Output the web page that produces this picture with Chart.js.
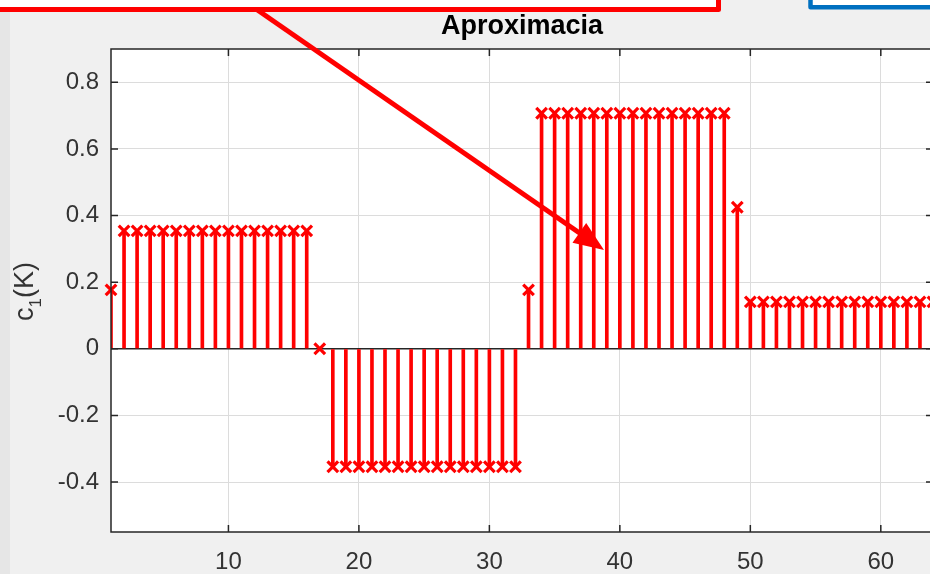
<!DOCTYPE html>
<html>
<head>
<meta charset="utf-8">
<script src="https://cdn.jsdelivr.net/npm/chart.js@4.4.1/dist/chart.umd.min.js"></script>
<style>
  html, body { margin: 0; padding: 0; background: #f0f0f0; overflow: hidden; width: 930px; height: 574px; }
  #wrap { width: 936px; height: 574px; }
</style>
</head>
<body>
<div id="wrap"><canvas id="chart" width="936" height="574"></canvas></div>
<script>
// ── Data ─────────────────────────────────────────────────────
const kValues = [
  1, 2, 3, 4, 5, 6, 7, 8, 9, 10, 11, 12, 13, 14, 15, 16,
  17, 18, 19, 20, 21, 22, 23, 24, 25, 26, 27, 28, 29, 30, 31, 32,
  33, 34, 35, 36, 37, 38, 39, 40, 41, 42, 43, 44, 45, 46, 47, 48,
  49, 50, 51, 52, 53, 54, 55, 56, 57, 58, 59, 60, 61, 62, 63, 64
];
const c1Values = [
  0.177, 0.354, 0.354, 0.354, 0.354, 0.354, 0.354, 0.354, 0.354, 0.354, 0.354, 0.354, 0.354, 0.354, 0.354, 0.354,
  0, -0.354, -0.354, -0.354, -0.354, -0.354, -0.354, -0.354, -0.354, -0.354, -0.354, -0.354, -0.354, -0.354, -0.354, -0.354,
  0.177, 0.707, 0.707, 0.707, 0.707, 0.707, 0.707, 0.707, 0.707, 0.707, 0.707, 0.707, 0.707, 0.707, 0.707, 0.707,
  0.425, 0.141, 0.141, 0.141, 0.141, 0.141, 0.141, 0.141, 0.141, 0.141, 0.141, 0.141, 0.141, 0.141, 0.141, 0.141
];
const xTicks = [10, 20, 30, 40, 50, 60];
const yTicks = [-0.4, -0.2, 0, 0.2, 0.4, 0.6, 0.8];
const chartTitle = 'Aproximacia';

// ── Styles ───────────────────────────────────────────────────
const FONT = "'Liberation Sans', Arial, sans-serif";
const AXIS_COLOR = '#262626';
const TEXT_COLOR = '#333333';
const GRID_COLOR = '#dcdcdc';
const STEM_RED = '#ff0000';

const points = kValues.map((k, i) => ({ x: k, y: c1Values[i] }));

// ── Plugins ──────────────────────────────────────────────────
const backgroundPlugin = {
  id: 'background',
  beforeDraw(chart) {
    const { ctx, chartArea: a } = chart;
    ctx.save();
    ctx.fillStyle = '#f0f0f0';
    ctx.fillRect(0, 0, chart.width, chart.height);
    ctx.fillStyle = '#e6e6e6';
    ctx.fillRect(0, 0, 10, chart.height);
    ctx.fillStyle = '#ffffff';
    ctx.fillRect(a.left, a.top, a.right - a.left, a.bottom - a.top);
    ctx.restore();
  }
};

const framePlugin = {
  id: 'frame',
  afterDatasetsDraw(chart) {
    const { ctx, chartArea: a, scales } = chart;
    ctx.save();
    ctx.strokeStyle = AXIS_COLOR;
    ctx.lineWidth = 1.5;
    ctx.strokeRect(a.left, a.top, a.right - a.left, a.bottom - a.top);
    // inward tick marks
    ctx.beginPath();
    xTicks.forEach(v => {
      const px = scales.x.getPixelForValue(v);
      ctx.moveTo(px, a.bottom); ctx.lineTo(px, a.bottom - 7);
      ctx.moveTo(px, a.top); ctx.lineTo(px, a.top + 7);
    });
    yTicks.forEach(v => {
      const py = scales.y.getPixelForValue(v);
      ctx.moveTo(a.left, py); ctx.lineTo(a.left + 7, py);
      ctx.moveTo(a.right, py); ctx.lineTo(a.right - 7, py);
    });
    ctx.stroke();
    ctx.restore();
  }
};

const labelsPlugin = {
  id: 'labels',
  afterDraw(chart) {
    const { ctx, chartArea: a } = chart;
    ctx.save();
    // title
    ctx.fillStyle = '#000000';
    ctx.font = `bold 27px ${FONT}`;
    ctx.textAlign = 'center';
    ctx.textBaseline = 'alphabetic';
    ctx.fillText(chartTitle, (a.left + a.right) / 2, 34);

    // y label: c_1(K)
    ctx.fillStyle = TEXT_COLOR;
    ctx.translate(33, (a.top + a.bottom) / 2 + 1);
    ctx.rotate(-Math.PI / 2);
    ctx.textAlign = 'left';
    const big = `27px ${FONT}`, small = `17px ${FONT}`;
    ctx.font = big; const wc = ctx.measureText('c').width, wk = ctx.measureText('(K)').width;
    ctx.font = small; const w1 = ctx.measureText('1').width;
    let x0 = -(wc + w1 + wk) / 2;
    ctx.font = big; ctx.fillText('c', x0, 0);
    ctx.font = small; ctx.fillText('1', x0 + wc, 8);
    ctx.font = big; ctx.fillText('(K)', x0 + wc + w1, 0);
    ctx.restore();
  }
};

// screenshot overlays (pixel positions of the boxes and arrow drawn over the figure)
const overlayPlugin = {
  id: 'overlay',
  afterDraw(chart) {
    const { ctx } = chart;
    ctx.save();
    // red box, top left
    ctx.fillStyle = '#ffffff';
    ctx.fillRect(-10, -10, 728.5, 19.5);
    ctx.strokeStyle = STEM_RED;
    ctx.lineWidth = 5;
    ctx.lineJoin = 'round';
    ctx.beginPath();
    ctx.moveTo(-10, 9.5); ctx.lineTo(718.5, 9.5); ctx.lineTo(718.5, -10);
    ctx.stroke();
    // blue box, top right
    ctx.fillStyle = '#ffffff';
    ctx.fillRect(810.5, -10, 140, 17.3);
    ctx.strokeStyle = '#0070c0';
    ctx.lineWidth = 4.5;
    ctx.beginPath();
    ctx.moveTo(810.5, -10); ctx.lineTo(810.5, 7.3); ctx.lineTo(950, 7.3);
    ctx.stroke();
    // arrow
    const sx = 256, sy = 9, tx = 604, ty = 250;
    const len = Math.hypot(tx - sx, ty - sy);
    const ux = (tx - sx) / len, uy = (ty - sy) / len;
    const head = 30, half = 12;
    const bx = tx - ux * head, by = ty - uy * head;
    ctx.strokeStyle = STEM_RED;
    ctx.lineWidth = 5;
    ctx.lineCap = 'butt';
    ctx.beginPath();
    ctx.moveTo(sx, sy); ctx.lineTo(bx + ux * 2, by + uy * 2);
    ctx.stroke();
    ctx.fillStyle = STEM_RED;
    ctx.beginPath();
    ctx.moveTo(tx, ty);
    ctx.lineTo(bx - uy * half, by + ux * half);
    ctx.lineTo(bx + uy * half, by - ux * half);
    ctx.closePath();
    ctx.fill();
    ctx.restore();
  }
};

// ── Chart ────────────────────────────────────────────────────
const ctx = document.getElementById('chart').getContext('2d');
new Chart(ctx, {
  type: 'bar',
  data: {
    datasets: [
      {
        type: 'scatter',
        data: points,
        pointStyle: 'crossRot',
        pointRadius: 7.5,
        borderColor: STEM_RED,
        backgroundColor: STEM_RED,
        borderWidth: 3.2,
        clip: false,
        order: 1
      },
      {
        type: 'bar',
        data: points,
        backgroundColor: STEM_RED,
        barThickness: 3,
        order: 2
      }
    ]
  },
  options: {
    responsive: false,
    animation: false,
    layout: { autoPadding: false, padding: { top: 49, right: 3, left: 0, bottom: 0 } },
    plugins: { legend: { display: false }, tooltip: { enabled: false }, title: { display: false } },
    scales: {
      x: {
        type: 'linear',
        min: 1,
        max: 64,
        offset: false,
        afterBuildTicks: s => { s.ticks = xTicks.map(v => ({ value: v })); },
        afterFit: s => { s.height = 42; },
        grid: { color: GRID_COLOR, lineWidth: 1, drawTicks: false, offset: false },
        border: { display: false },
        ticks: { autoSkip: false, maxRotation: 0, padding: 16, color: TEXT_COLOR, font: { family: FONT, size: 24 } }
      },
      y: {
        min: -0.55,
        max: 0.9,
        afterBuildTicks: s => { s.ticks = yTicks.map(v => ({ value: v })); },
        afterFit: s => { s.width = 111; },
        grid: {
          color: c => (c.tick && c.tick.value === 0 ? AXIS_COLOR : GRID_COLOR),
          lineWidth: c => (c.tick && c.tick.value === 0 ? 1.5 : 1),
          drawTicks: false
        },
        border: { display: false },
        ticks: {
          padding: 12,
          color: TEXT_COLOR,
          font: { family: FONT, size: 24 },
          callback: v => (v === 0 ? '0' : v.toFixed(1))
        }
      }
    }
  },
  plugins: [backgroundPlugin, framePlugin, labelsPlugin, overlayPlugin]
});
</script>
</body>
</html>
